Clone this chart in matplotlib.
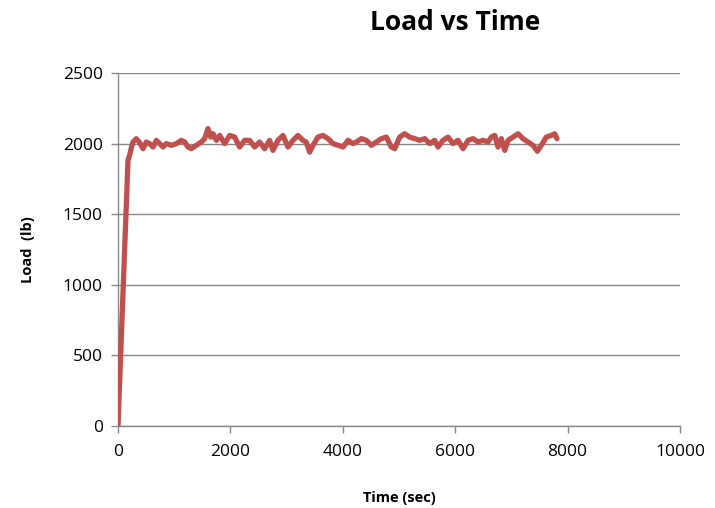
import matplotlib
matplotlib.use("Agg")
import matplotlib.pyplot as plt

time_sec = [0, 178, 208, 240, 267, 326, 385, 445, 504, 563, 623, 682, 741, 800,
            860, 949, 1038, 1127, 1186, 1245, 1305, 1394, 1483, 1542, 1601, 1649,
            1690, 1750, 1809, 1898, 1987, 2076, 2165, 2253, 2342, 2431, 2520,
            2609, 2698, 2757, 2846, 2935, 3024, 3113, 3202, 3291, 3350, 3410,
            3469, 3558, 3647, 3736, 3825, 3915, 4004, 4093, 4182, 4241, 4330,
            4419, 4508, 4597, 4686, 4775, 4864, 4923, 5012, 5101, 5190, 5279,
            5368, 5457, 5546, 5635, 5694, 5783, 5872, 5961, 6050, 6139, 6228,
            6317, 6406, 6495, 6584, 6643, 6703, 6762, 6821, 6881, 6940, 7028,
            7117, 7206, 7295, 7384, 7461, 7532, 7621, 7710, 7769, 7811]
load_lb = [0, 1884, 1919, 1975, 2011, 2035, 2007, 1964, 2011, 2000, 1976, 2023,
           2000, 1976, 2000, 1988, 2000, 2023, 2011, 1976, 1964, 1988, 2011, 2035,
           2106, 2046, 2070, 2023, 2058, 2000, 2058, 2046, 1976, 2023, 2023, 1976,
           2011, 1964, 2023, 1952, 2023, 2058, 1976, 2023, 2058, 2023, 2011, 1940,
           1988, 2046, 2058, 2035, 2000, 1988, 1976, 2023, 2000, 2011, 2035, 2023,
           1988, 2011, 2035, 2046, 1976, 1964, 2046, 2070, 2046, 2035, 2023, 2035,
           2000, 2023, 1976, 2023, 2046, 2000, 2023, 1964, 2023, 2035, 2011, 2023,
           2011, 2046, 2058, 1976, 2035, 1952, 2023, 2046, 2070, 2035, 2011, 1988,
           1946, 1988, 2046, 2058, 2070, 2035]

x_ticks = [0, 2000, 4000, 6000, 8000, 10000]
y_ticks = [0, 500, 1000, 1500, 2000, 2500]

plt.rcParams['font.family'] = ['Open Sans', 'DejaVu Sans']

fig = plt.figure(figsize=(7.15, 5.08), dpi=100)
ax = fig.add_axes([118/715, 1 - 426/508, (680 - 118)/715, (426 - 73)/508])

ax.plot(time_sec, load_lb, color='#C0504D', lw=3.8, solid_joinstyle='round',
        solid_capstyle='round', zorder=3)

ax.set_xlim(0, 10000)
ax.set_ylim(0, 2500)
ax.set_xticks(x_ticks)
ax.set_yticks(y_ticks)
ax.set_xticklabels([str(v) for v in x_ticks], fontsize=12.5)
ax.set_yticklabels([str(v) for v in y_ticks], fontsize=12.5)

grid_c = '#888888'
ax.yaxis.grid(True, color=grid_c, lw=1.0)
ax.set_axisbelow(True)
for s in ['top', 'right']:
    ax.spines[s].set_visible(False)
for s in ['left', 'bottom']:
    ax.spines[s].set_color(grid_c)
    ax.spines[s].set_linewidth(1.0)
ax.tick_params(axis='both', colors=grid_c, direction='out', length=5, width=1,
               labelcolor='black')
ax.tick_params(axis='x', pad=8)
ax.tick_params(axis='y', pad=6)

ax.set_xlabel('Time (sec)', fontsize=10.5, fontweight='bold', labelpad=22)
ax.set_ylabel('Load  (lb)', fontsize=10.5, fontweight='bold', labelpad=20)

fig.text(455/715, 1 - 22/508, 'Load vs Time', fontsize=19, fontweight='bold',
         ha='center', va='center')

fig.savefig('out.png', dpi=100)
